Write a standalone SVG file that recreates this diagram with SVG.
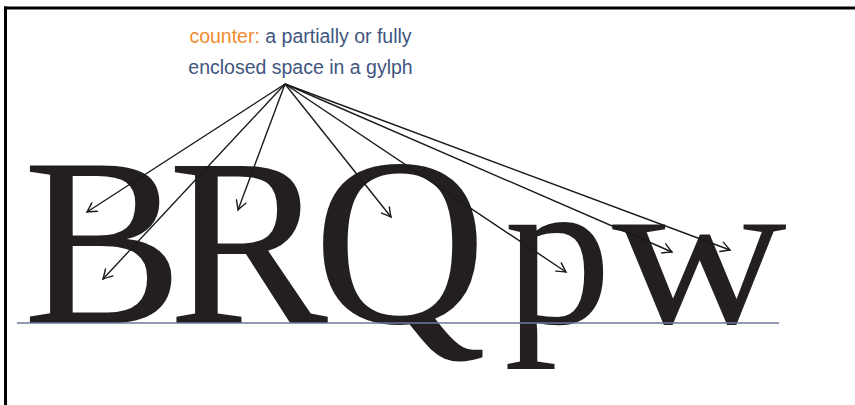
<svg xmlns="http://www.w3.org/2000/svg" width="855" height="405" viewBox="0 0 855 405">
<defs>
<style>
.lbl{font-family:"Liberation Sans",Arial,sans-serif;font-size:19.5px;text-anchor:middle}
.or{fill:#f28a30}
.bl{fill:#3f5680}
.glyph{font-family:"Liberation Serif","Times New Roman",serif;font-size:240px;fill:#231f20}
.lc{font-size:215px}
.arr{stroke:#1a1a1a;stroke-width:1.4;fill:none;marker-end:url(#ah)}
</style>
<marker id="ah" viewBox="-11 -7 13 14" markerWidth="13" markerHeight="14" refX="0" refY="0" orient="auto" markerUnits="userSpaceOnUse">
<path d="M -9 -5 Q -2.5 -1.2 0 0 Q -2.5 1.2 -9 5" fill="none" stroke="#1a1a1a" stroke-width="1.4" stroke-linecap="round"/>
</marker>
</defs>
<rect width="855" height="405" fill="#ffffff"/>
<g id="frame">
<line x1="4" y1="8" x2="855" y2="8" stroke="#000" stroke-width="3"/>
<line x1="5.5" y1="6.5" x2="5.5" y2="405" stroke="#000" stroke-width="3"/>
</g>
<g id="label">
<text class="lbl" x="300.5" y="43"><tspan class="or">counter:</tspan><tspan class="bl"> a partially or fully</tspan></text>
<text class="lbl bl" x="300.5" y="74">enclosed space in a gylph</text>
</g>
<g id="glyphs">
<text class="glyph" x="23" y="323" letter-spacing="-15">BRQ</text>
<text class="glyph lc" x="504" y="323">p</text>
<text class="glyph lc" x="612" y="323" textLength="175" lengthAdjust="spacingAndGlyphs">w</text>
</g>
<g id="baseline">
<line x1="17" y1="323" x2="779" y2="323" stroke="#6b7a99" stroke-width="1.3"/>
</g>
<g id="connectors">
<line class="arr" x1="285" y1="84" x2="87" y2="212"/>
<line class="arr" x1="285" y1="84" x2="103" y2="279"/>
<line class="arr" x1="285" y1="84" x2="238" y2="210"/>
<line class="arr" x1="285" y1="84" x2="391" y2="217"/>
<line class="arr" x1="285" y1="84" x2="566" y2="272"/>
<line class="arr" x1="285" y1="84" x2="672" y2="252"/>
<line class="arr" x1="285" y1="84" x2="730" y2="250"/>
</g>
</svg>
